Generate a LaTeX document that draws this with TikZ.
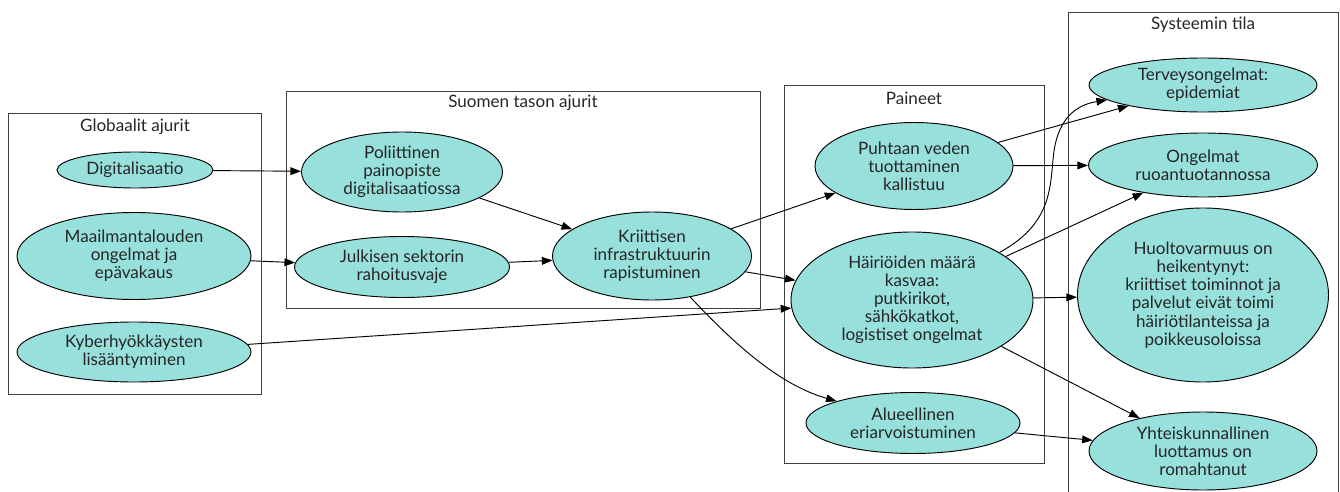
\documentclass[tikz,border=0pt]{standalone}
\usepackage{fontspec}
\setmainfont{Lato}
\usetikzlibrary{shapes.geometric,arrows.meta}
\definecolor{turkoosi}{RGB}{151,224,220}
\begin{document}
\begin{tikzpicture}[
      x=0.75pt, y=-0.75pt,
      every node/.style={font=\fontsize{12.8}{13.6}\selectfont, text=black!85},
      tapahtuma/.style={ellipse, draw, fill=turkoosi, inner sep=0pt, align=center, line width=0.7pt},  % turquoise ellipses
      koko/.style 2 args={minimum width=#1*0.75pt, minimum height=#2*0.75pt},  % size in pixels
      ryhma/.style={draw=black!75, line width=0.7pt},  % cluster frames
      nuoli/.style={-{Triangle[length=8pt,width=5.8pt]}, line width=0.7pt}  % connectors
    ]
    \useasboundingbox (0,0) rectangle (1340,492);

    % clusters
    \draw[ryhma] (8,113) rectangle (261,394);
    \node (globaalit) at (135,127) {Globaalit ajurit};
    \draw[ryhma] (286,91) rectangle (760,308);
    \node (suomi) at (523,103) {Suomen tason ajurit};
    \draw[ryhma] (784,85) rectangle (1044,463);
    \node (paineet) at (914,98) {Paineet};
    \draw[ryhma] (1068,12) rectangle (1338,500);
    \node (tila) at (1203,25) {Systeemin tila};

    % drivers
    \node[tapahtuma, koko={156}{36}] (digi) at (135,170) {Digitalisaatio};
    \node[tapahtuma, koko={234}{87}] (talous) at (134,256) {Maailmantalouden\\ongelmat ja\\epävakaus};
    \node[tapahtuma, koko={234}{60}] (kyber) at (134,352) {Kyberhyökkäysten\\lisääntyminen};
    \node[tapahtuma, koko={201}{80}] (poli) at (402,172) {Poliittinen\\painopiste\\digitalisaatiossa};
    \node[tapahtuma, koko={215}{61}] (rahoitus) at (402,267) {Julkisen sektorin\\rahoitusvaje};
    \node[tapahtuma, koko={199}{88}] (infra) at (652,256) {Kriittisen\\infrastruktuurin\\rapistuminen};

    % pressures
    \node[tapahtuma, koko={198}{87}] (vesi) at (914,166) {Puhtaan veden\\tuottaminen\\kallistuu};
    \node[tapahtuma, koko={242}{136}] (hairio) at (912,300) {Häiriöiden määrä\\kasvaa:\\putkirikot,\\sähkökatkot,\\logistiset ongelmat};
    \node[tapahtuma, koko={214}{61}] (alue) at (913,423) {Alueellinen\\eriarvoistuminen};

    % state of the system
    \node[tapahtuma, koko={228}{54}] (terveys) at (1203,85) {Terveysongelmat:\\epidemiat};
    \node[tapahtuma, koko={229}{64}] (ruoka) at (1203,165) {Ongelmat\\ruoantuotannossa};
    \node[tapahtuma, koko={251}{174}] (huolto) at (1203,295) {Huoltovarmuus on\\heikentynyt:\\kriittiset toiminnot ja\\palvelut eivät toimi\\häiriötilanteissa ja\\poikkeusoloissa};
    \node[tapahtuma, koko={228}{78}] (luottamus) at (1203,451) {Yhteiskunnallinen\\luottamus on\\romahtanut};

    \draw[nuoli] (digi) -- (poli);
    \draw[nuoli] (talous) -- (rahoitus);
    \draw[nuoli] (kyber) -- (hairio);
    \draw[nuoli] (poli) -- (infra);
    \draw[nuoli] (rahoitus) -- (infra);
    \draw[nuoli] (infra) -- (vesi);
    \draw[nuoli] (infra) -- (hairio);
    \draw[nuoli] (infra) .. controls (735,345) and (780,385) .. (alue);
    \draw[nuoli] (vesi) -- (terveys);
    \draw[nuoli] (vesi) -- (ruoka);
    \draw[nuoli] (hairio) .. controls (1050,225) and (1050,190) .. (1053,160)
        .. controls (1056,120) and (1075,105) .. (terveys);
    \draw[nuoli] (hairio) -- (ruoka);
    \draw[nuoli] (hairio) -- (huolto);
    \draw[nuoli] (hairio) -- (luottamus);
    \draw[nuoli] (alue) -- (luottamus);
\end{tikzpicture}
\end{document}
